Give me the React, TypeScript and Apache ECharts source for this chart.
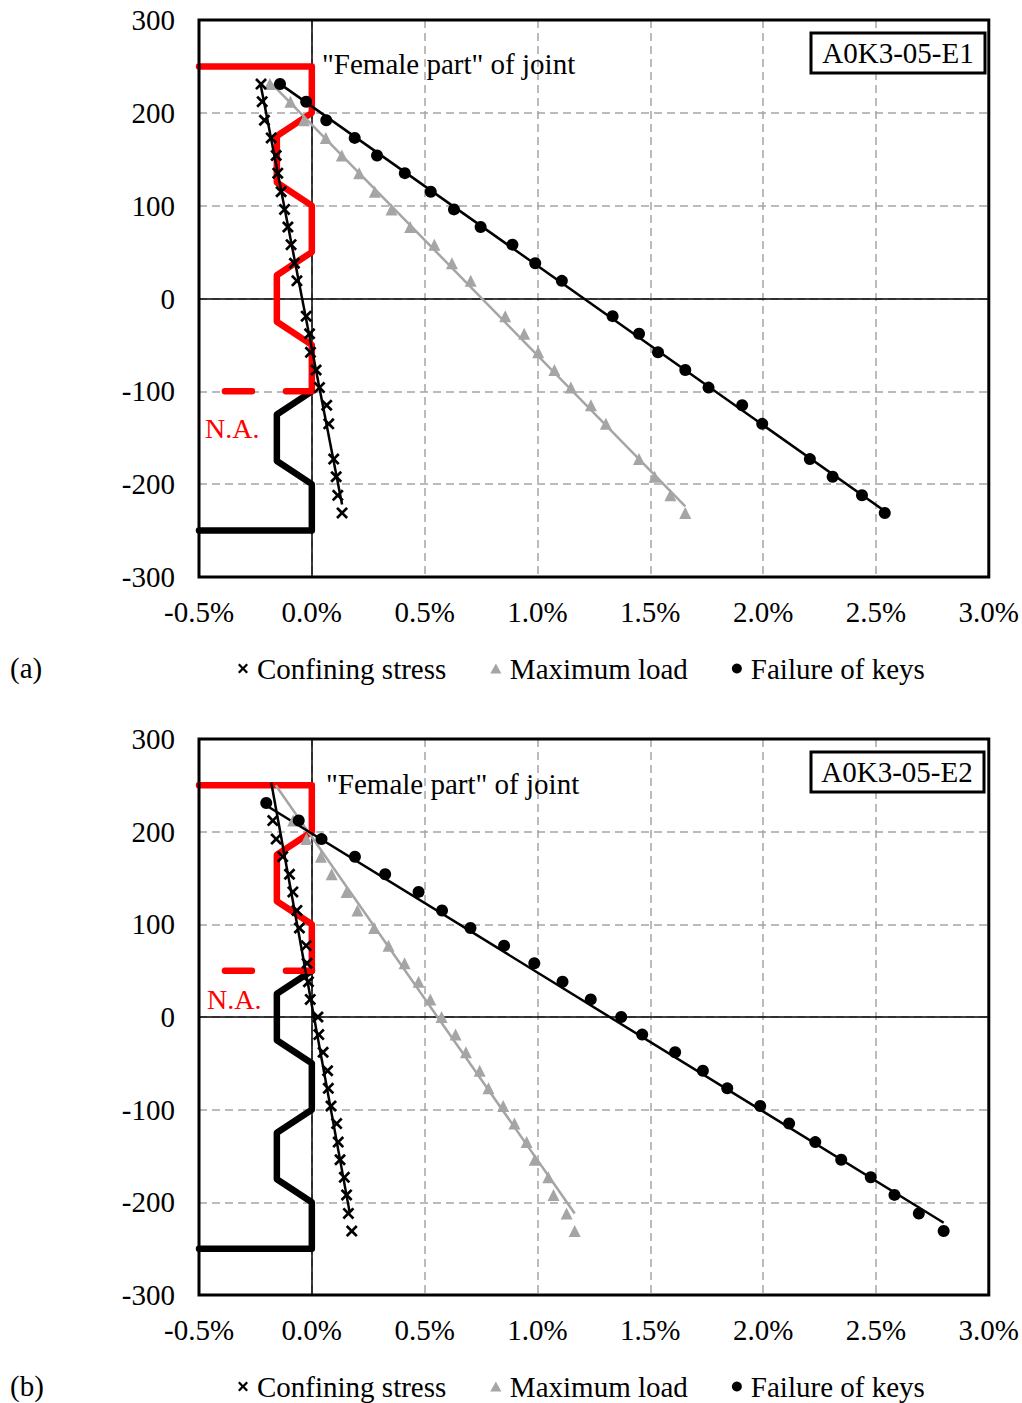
import React, { useEffect, useRef } from 'react';
import * as echarts from 'echarts';

const FONT = 'Liberation Serif, Times New Roman, serif';

// Axis ranges / ticks
const X_MIN = -0.5;
const X_MAX = 3.0;
const X_STEP = 0.5;
const Y_MIN = -300;
const Y_MAX = 300;
const Y_STEP = 100;

// Legend names
const NAME_CONF = 'Confining stress';
const NAME_MAX = 'Maximum load';
const NAME_FAIL = 'Failure of keys';

// ---- Panel (a): A0K3-05-E1 ----
const a_heights = [231, 212, 192, 173, 154, 135, 115, 96, 77, 58, 38, 19, -19, -38, -58, -77, -96, -115, -135, -173, -192, -212, -231];
const a_confining = [-0.225, -0.22, -0.21, -0.18, -0.158, -0.151, -0.136, -0.121, -0.106, -0.092, -0.077, -0.066, -0.025, -0.01, -0.006, 0.019, 0.034, 0.066, 0.075, 0.097, 0.108, 0.115, 0.134];
const a_maxload = [-0.186, -0.095, -0.035, 0.062, 0.133, 0.21, 0.279, 0.353, 0.436, 0.543, 0.621, 0.704, 0.857, 0.941, 1.003, 1.075, 1.148, 1.237, 1.303, 1.45, 1.519, 1.589, 1.655];
const a_failure = [-0.141, -0.025, 0.064, 0.19, 0.289, 0.412, 0.527, 0.63, 0.748, 0.889, 0.99, 1.108, 1.333, 1.45, 1.534, 1.655, 1.758, 1.907, 1.996, 2.207, 2.308, 2.438, 2.539];
// trend lines [x0, x1], [y0, y1]
const a_confFitX = [-0.229, 0.134];
const a_confFitY = [233, -222];
const a_maxFitX = [-0.188, 1.655];
const a_maxFitY = [234, -224];
const a_failFitX = [-0.146, 2.539];
const a_failFitY = [232, -229];

// ---- Panel (b): A0K3-05-E2 ----
const b_confHeights = [212, 192, 173, 154, 135, 115, 96, 77, 58, 38, 19, 0, -19, -38, -58, -77, -96, -115, -135, -154, -173, -192, -212, -231];
const b_confining = [-0.173, -0.158, -0.129, -0.099, -0.084, -0.066, -0.055, -0.025, -0.021, -0.015, -0.007, 0.027, 0.031, 0.05, 0.07, 0.073, 0.085, 0.11, 0.117, 0.125, 0.144, 0.154, 0.162, 0.177];
const b_maxHeights = [212, 192, 173, 154, 135, 115, 96, 77, 58, 38, 19, 0, -19, -38, -58, -77, -96, -115, -135, -154, -173, -192, -212, -231];
const b_maxload = [-0.083, -0.024, 0.04, 0.088, 0.154, 0.202, 0.276, 0.34, 0.411, 0.473, 0.525, 0.575, 0.637, 0.683, 0.744, 0.783, 0.848, 0.898, 0.952, 0.988, 1.048, 1.071, 1.129, 1.165];
const b_failHeights = [231, 212, 192, 173, 154, 135, 115, 96, 77, 58, 38, 19, 0, -19, -38, -58, -77, -96, -115, -135, -154, -173, -192, -212, -231];
const b_failure = [-0.202, -0.058, 0.043, 0.191, 0.325, 0.473, 0.577, 0.703, 0.852, 0.986, 1.111, 1.236, 1.371, 1.464, 1.61, 1.733, 1.841, 1.987, 2.115, 2.231, 2.346, 2.477, 2.582, 2.69, 2.8];
const b_confFitX = [-0.18, 0.167];
const b_confFitY = [253, -210];
const b_maxFitX = [-0.16, 1.165];
const b_maxFitY = [250, -212];
const b_failFitX = [-0.2, 2.8];
const b_failFitY = [228, -222];

// ---- Joint key profile (same geometry in both panels) ----
const profileX = [-0.5, 0, 0, -0.155, -0.155, 0, 0, -0.155, -0.155, 0, 0, -0.155, -0.155, 0, 0, -0.5];
const profileY = [250, 250, 200, 175, 125, 100, 50, 25, -25, -50, -100, -125, -175, -200, -250, -250];
// index of the neutral axis point in the profile, and N.A. dash line
const a_naIndex = 10; // y = -100
const b_naIndex = 6; // y = 50
const naDashX = [-0.385, 0];

const zip = (xs: number[], ys: number[]) => xs.map((x, i) => [x, ys[i]]);

const CROSS = 'path://M1.6,0L5,3.4L8.4,0L10,1.6L6.6,5L10,8.4L8.4,10L5,6.6L1.6,10L0,8.4L3.4,5L0,1.6Z';
const TRI = 'path://M5,0L10,9L0,9Z';
const GREY = '#a5a5a5';
const RED = '#ff0000';

function panelSeries(
  idx: number,
  conf: number[][],
  maxl: number[][],
  fail: number[][],
  confFit: number[][],
  maxFit: number[][],
  failFit: number[][],
  naIndex: number,
) {
  const naY = profileY[naIndex];
  const redPts = zip(profileX, profileY).slice(0, naIndex + 1);
  const blackPts = zip(profileX, profileY).slice(naIndex);
  const common = { xAxisIndex: idx, yAxisIndex: idx };
  return [
    {
      ...common,
      type: 'line',
      name: 'profile-red-' + idx,
      data: redPts,
      symbol: 'none',
      z: 3,
      lineStyle: { color: RED, width: 6.5, join: 'round', cap: 'round' },
      markLine: {
        silent: true,
        symbol: 'none',
        label: { show: false },
        lineStyle: { color: '#000', width: 1.5, type: 'solid' },
        data: [{ xAxis: 0 }, { yAxis: 0 }],
        z: 2,
      },
    },
    {
      ...common,
      type: 'line',
      name: 'profile-black-' + idx,
      data: blackPts,
      symbol: 'none',
      z: 3,
      lineStyle: { color: '#000', width: 6.5, join: 'round', cap: 'round' },
    },
    {
      ...common,
      type: 'line',
      name: 'na-' + idx,
      data: naDashX.map((x) => [x, naY]),
      symbol: 'none',
      z: 3,
      lineStyle: { color: RED, width: 6.5, type: [27, 34], cap: 'round' },
    },
    {
      ...common,
      type: 'line',
      name: 'fit-max-' + idx,
      data: maxFit,
      symbol: 'none',
      z: 4,
      lineStyle: { color: GREY, width: 2.5 },
    },
    {
      ...common,
      type: 'line',
      name: 'fit-fail-' + idx,
      data: failFit,
      symbol: 'none',
      z: 4,
      lineStyle: { color: '#000', width: 2.5 },
    },
    {
      ...common,
      type: 'line',
      name: 'fit-conf-' + idx,
      data: confFit,
      symbol: 'none',
      z: 4,
      lineStyle: { color: '#000', width: 2.5 },
    },
    {
      ...common,
      type: 'scatter',
      name: NAME_MAX,
      data: maxl,
      symbol: 'triangle',
      symbolSize: 12,
      z: 5,
      itemStyle: { color: GREY, opacity: 1 },
    },
    {
      ...common,
      type: 'scatter',
      name: NAME_FAIL,
      data: fail,
      symbol: 'circle',
      symbolSize: 12,
      z: 5,
      itemStyle: { color: '#000', opacity: 1 },
    },
    {
      ...common,
      type: 'scatter',
      name: NAME_CONF,
      data: conf,
      symbol: CROSS,
      symbolSize: 12,
      z: 6,
      itemStyle: { color: '#000', opacity: 1 },
    },
  ];
}

export default function App() {
  const ref = useRef<HTMLDivElement>(null);
  useEffect(() => {
    if (!ref.current) return;
    const chart = echarts.init(ref.current, null, { renderer: 'svg' });
    const grids = [
      { left: 199, top: 20, width: 790, height: 557 },
      { left: 199, top: 739, width: 790, height: 556 },
    ];
    const axisFont = { fontFamily: FONT, fontSize: 29, color: '#000' };
    const gridLine = { show: true, lineStyle: { color: GREY, type: [8, 5], width: 1.5 } };
    const option: any = {
      animation: false,
      backgroundColor: '#fff',
      textStyle: { fontFamily: FONT },
      grid: grids.map((g) => ({ ...g, show: true, borderColor: '#000', borderWidth: 3, backgroundColor: 'transparent', z: 10 })),
      xAxis: grids.map((_, i) => ({
        type: 'value',
        gridIndex: i,
        min: X_MIN,
        max: X_MAX,
        interval: X_STEP,
        axisLine: { show: false },
        axisTick: { show: false },
        splitLine: gridLine,
        axisLabel: {
          ...axisFont,
          margin: 20,
          showMinLabel: true,
          showMaxLabel: true,
          formatter: (v: number) => v.toFixed(1) + '%',
        },
      })),
      yAxis: grids.map((_, i) => ({
        type: 'value',
        gridIndex: i,
        min: Y_MIN,
        max: Y_MAX,
        interval: Y_STEP,
        axisLine: { show: false },
        axisTick: { show: false },
        splitLine: gridLine,
        axisLabel: { ...axisFont, margin: 24, showMinLabel: true, showMaxLabel: true },
      })),
      legend: [654, 1372].map((top) => ({
        left: 238,
        top,
        itemWidth: 18,
        itemHeight: 10,
        itemGap: 44,
        padding: 0,
        selectedMode: false,
        textStyle: { fontFamily: FONT, fontSize: 29, color: '#000' },
        data: [
          { name: NAME_CONF, icon: CROSS },
          { name: NAME_MAX, icon: TRI },
          { name: NAME_FAIL, icon: 'circle' },
        ],
      })),
      series: [
        ...panelSeries(
          0,
          zip(a_confining, a_heights),
          zip(a_maxload, a_heights),
          zip(a_failure, a_heights),
          zip(a_confFitX, a_confFitY),
          zip(a_maxFitX, a_maxFitY),
          zip(a_failFitX, a_failFitY),
          a_naIndex,
        ),
        ...panelSeries(
          1,
          zip(b_confining, b_confHeights),
          zip(b_maxload, b_maxHeights),
          zip(b_failure, b_failHeights),
          zip(b_confFitX, b_confFitY),
          zip(b_maxFitX, b_maxFitY),
          zip(b_failFitX, b_failFitY),
          b_naIndex,
        ),
      ],
      graphic: [
        { type: 'text', x: 10, y: 668, style: { text: '(a)', fontFamily: FONT, fontSize: 29, fill: '#000', verticalAlign: 'middle' } },
        { type: 'text', x: 10, y: 1386, style: { text: '(b)', fontFamily: FONT, fontSize: 29, fill: '#000', verticalAlign: 'middle' } },
        { type: 'text', x: 322, y: 64, z: 20, style: { text: '"Female part" of joint', fontFamily: FONT, fontSize: 29, fill: '#000', verticalAlign: 'middle' } },
        { type: 'text', x: 326, y: 784, z: 20, style: { text: '"Female part" of joint', fontFamily: FONT, fontSize: 29, fill: '#000', verticalAlign: 'middle' } },
        { type: 'text', x: 205, y: 428, z: 20, style: { text: 'N.A.', fontFamily: FONT, fontSize: 28, fill: RED, verticalAlign: 'middle' } },
        { type: 'text', x: 207, y: 999, z: 20, style: { text: 'N.A.', fontFamily: FONT, fontSize: 28, fill: RED, verticalAlign: 'middle' } },
        { type: 'rect', z: 20, shape: { x: 811, y: 33, width: 174, height: 40 }, style: { fill: '#fff', stroke: '#000', lineWidth: 3 } },
        { type: 'text', z: 21, x: 898, y: 53, style: { text: 'A0K3-05-E1', fontFamily: FONT, fontSize: 29, fill: '#000', align: 'center', verticalAlign: 'middle' } },
        { type: 'rect', z: 20, shape: { x: 811, y: 752, width: 173, height: 40 }, style: { fill: '#fff', stroke: '#000', lineWidth: 3 } },
        { type: 'text', z: 21, x: 897, y: 772, style: { text: 'A0K3-05-E2', fontFamily: FONT, fontSize: 29, fill: '#000', align: 'center', verticalAlign: 'middle' } },
      ],
    };
    chart.setOption(option);
    return () => chart.dispose();
  }, []);
  return (
    <div
      ref={ref}
      style={{ position: 'absolute', left: 0, top: 0, width: 1022, height: 1403, background: '#fff' }}
    />
  );
}
